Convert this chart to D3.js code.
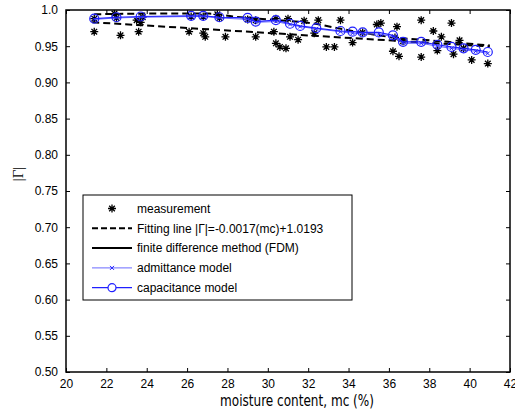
<!DOCTYPE html>
<html>
<head>
<meta charset="utf-8">
<script src="https://cdn.jsdelivr.net/npm/d3@7"></script>
<style>
body { margin: 0; background: #fff; }
svg { font-family: "Liberation Sans", Arial, sans-serif; }
</style>
</head>
<body>
<div id="vis"></div>
<script>
// measured reflection coefficient magnitude vs moisture content
var measMc = [21.4, 21.4, 22.4, 22.7, 22.5, 23.6, 23.5, 23.7, 23.8, 26.1, 26.2, 26.8, 26.9, 26.8,
	27.5, 27.6, 27.9, 29.0, 29.4, 29.4, 30.3, 30.4, 30.4, 30.6, 30.9, 31.0, 31.1, 31.5, 31.8,
	32.3, 32.5, 32.9, 33.3, 33.6, 34.2, 35.4, 35.6, 36.2, 36.4, 36.5, 36.3, 37.6, 37.6, 38.2,
	38.4, 38.6, 39.1, 39.5, 39.2, 40.1, 40.9, 34.7, 36.7, 39.7];
var measG = [0.970, 0.988, 0.995, 0.965, 0.989, 0.970, 0.986, 0.983, 0.990, 0.970, 0.991, 0.968, 0.963, 0.991,
	0.994, 0.989, 0.963, 0.987, 0.963, 0.986, 0.970, 0.988, 0.954, 0.949, 0.947, 0.988, 0.963, 0.959, 0.985,
	0.968, 0.986, 0.949, 0.949, 0.986, 0.955, 0.980, 0.982, 0.943, 0.977, 0.936, 0.962, 0.986, 0.935, 0.971,
	0.944, 0.963, 0.982, 0.958, 0.939, 0.931, 0.926, 0.969, 0.957, 0.947];

// fitting line |G| = -0.0017 mc + 1.0193, endpoints
var fitMc = [21.3, 41.0];
var fitG = [0.9831, 0.9496];

// second dashed curve (upper)
var upMc = [21.4, 24.0, 27.1, 28.3, 30.0, 32.1, 34.0, 36.0, 38.5, 41.0];
var upG = [0.994, 0.995, 0.995, 0.991, 0.987, 0.982, 0.972, 0.963, 0.957, 0.951];

// model curves
var modelMc = [21.4, 22.5, 23.7, 26.2, 26.8, 27.6, 29.0, 29.4, 30.4, 31.1, 31.6, 32.4,
	33.6, 34.2, 34.7, 35.5, 36.2, 36.7, 37.6, 38.4, 39.1, 39.7, 40.3, 40.9];
var capG = [0.988, 0.990, 0.991, 0.992, 0.992, 0.990, 0.989, 0.984, 0.986, 0.981, 0.978, 0.975,
	0.971, 0.970, 0.969, 0.969, 0.965, 0.956, 0.956, 0.952, 0.949, 0.947, 0.945, 0.942];
var admG = [0.987, 0.989, 0.990, 0.991, 0.991, 0.989, 0.987, 0.983, 0.984, 0.980, 0.977, 0.974,
	0.970, 0.968, 0.967, 0.967, 0.963, 0.954, 0.954, 0.950, 0.947, 0.945, 0.943, 0.940];

var xTicks = [20, 22, 24, 26, 28, 30, 32, 34, 36, 38, 40, 42];
var yTicks = [0.5, 0.55, 0.6, 0.65, 0.7, 0.75, 0.8, 0.85, 0.9, 0.95, 1.0];

var legendLabels = ['measurement', 'Fitting line |\u0393|=-0.0017(mc)+1.0193',
	'finite difference method (FDM)', 'admittance model', 'capacitance model'];

var width = 515, height = 412;
var margin = { left: 66, right: 5, top: 10, bottom: 40 };
var drawWidth = width - margin.left - margin.right,
	drawHeight = height - margin.top - margin.bottom;

var svg = d3.select('#vis').append('svg')
	.attr('width', width)
	.attr('height', height);

var g = svg.append('g')
	.attr('transform', 'translate(' + margin.left + ',' + margin.top + ')');

var x = d3.scaleLinear().domain([20, 42]).range([0, drawWidth]);
var y = d3.scaleLinear().domain([0.5, 1.0]).range([drawHeight, 0]);

var blue = '#2020ff';

g.append('clipPath').attr('id', 'clip')
	.append('rect').attr('width', drawWidth).attr('height', drawHeight);

var plot = g.append('g').attr('clip-path', 'url(#clip)');

function starPath(s) {
	var p = '';
	[0, 45, 90, 135].forEach(function(a) {
		var r = a * Math.PI / 180;
		var dx = Math.cos(r) * s, dy = Math.sin(r) * s;
		p += 'M' + (-dx) + ',' + (-dy) + 'L' + dx + ',' + dy;
	});
	return p;
}

// measurement stars
plot.append('g').selectAll('path')
	.data(measMc.map(function(d, i) { return [d, measG[i]]; }))
	.enter().append('path')
	.attr('transform', function(d) { return 'translate(' + x(d[0]) + ',' + y(d[1]) + ')'; })
	.attr('d', starPath(4))
	.attr('stroke', '#000')
	.attr('stroke-width', 1.3)
	.attr('fill', 'none');

var line = d3.line()
	.x(function(d) { return x(d[0]); })
	.y(function(d) { return y(d[1]); });

// dashed lines
plot.append('path')
	.datum(upMc.map(function(d, i) { return [d, upG[i]]; }))
	.attr('d', line.curve(d3.curveMonotoneX))
	.attr('fill', 'none')
	.attr('stroke', '#000')
	.attr('stroke-width', 2)
	.attr('stroke-dasharray', '7,4');

line.curve(d3.curveLinear);

plot.append('path')
	.datum(fitMc.map(function(d, i) { return [d, fitG[i]]; }))
	.attr('d', line)
	.attr('fill', 'none')
	.attr('stroke', '#000')
	.attr('stroke-width', 2)
	.attr('stroke-dasharray', '7,4');

// admittance model
var admData = modelMc.map(function(d, i) { return [d, admG[i]]; });
plot.append('path')
	.datum(admData)
	.attr('d', line)
	.attr('fill', 'none')
	.attr('stroke', '#6a6aff')
	.attr('stroke-width', 1);

plot.append('g').selectAll('path')
	.data(admData)
	.enter().append('path')
	.attr('transform', function(d) { return 'translate(' + x(d[0]) + ',' + y(d[1]) + ')'; })
	.attr('d', 'M-2,-2L2,2M-2,2L2,-2')
	.attr('stroke', blue)
	.attr('stroke-width', 1);

// capacitance model
var capData = modelMc.map(function(d, i) { return [d, capG[i]]; });
plot.append('path')
	.datum(capData)
	.attr('d', line)
	.attr('fill', 'none')
	.attr('stroke', blue)
	.attr('stroke-width', 1.2);

plot.append('g').selectAll('circle')
	.data(capData)
	.enter().append('circle')
	.attr('cx', function(d) { return x(d[0]); })
	.attr('cy', function(d) { return y(d[1]); })
	.attr('r', 4.5)
	.attr('fill', 'none')
	.attr('stroke', blue)
	.attr('stroke-width', 1.2);

// axes, MATLAB style with inward ticks on all sides
var fmtY = function(d) { return d === 1 ? '1.0' : d3.format('.2f')(d); };

g.append('g')
	.attr('class', 'axis')
	.attr('transform', 'translate(0,' + drawHeight + ')')
	.call(d3.axisBottom(x).tickValues(xTicks).tickSize(-4).tickPadding(7));

g.append('g')
	.attr('class', 'axis')
	.call(d3.axisTop(x).tickValues(xTicks).tickSize(-4).tickFormat(''));

g.append('g')
	.attr('class', 'axis')
	.call(d3.axisLeft(y).tickValues(yTicks).tickSize(-4).tickPadding(8).tickFormat(fmtY));

g.append('g')
	.attr('class', 'axis')
	.attr('transform', 'translate(' + drawWidth + ',0)')
	.call(d3.axisRight(y).tickValues(yTicks).tickSize(-4).tickFormat(''));

g.selectAll('.axis .domain').remove();
g.selectAll('.axis text')
	.attr('font-size', 12)
	.attr('fill', '#000')
	.attr('font-family', '"Liberation Sans", Arial, sans-serif');
g.selectAll('.axis line').attr('stroke', '#000');

g.append('rect')
	.attr('width', drawWidth)
	.attr('height', drawHeight)
	.attr('fill', 'none')
	.attr('stroke', '#000')
	.attr('stroke-width', 1.5);

// axis titles
svg.append('text')
	.attr('x', 297)
	.attr('y', 406)
	.attr('text-anchor', 'middle')
	.attr('font-family', '"Liberation Sans Narrow", "DejaVu Sans Condensed", sans-serif')
	.attr('font-size', 15)
	.attr('textLength', 154)
	.attr('lengthAdjust', 'spacingAndGlyphs')
	.text('moisture content, mc (%)');

svg.append('text')
	.attr('transform', 'translate(23,174) rotate(-90)')
	.attr('text-anchor', 'middle')
	.attr('font-family', '"Liberation Serif", "Times New Roman", serif')
	.attr('font-size', 15)
	.text('|\u0393|');

// legend
var lx = 83, ly = 195, lw = 269, lh = 105;
var legend = svg.append('g');
legend.append('rect')
	.attr('x', lx).attr('y', ly)
	.attr('width', lw).attr('height', lh)
	.attr('fill', '#fff')
	.attr('stroke', '#000')
	.attr('stroke-width', 1);

var rows = legend.selectAll('g.row')
	.data(legendLabels)
	.enter().append('g')
	.attr('class', 'row')
	.attr('transform', function(d, i) { return 'translate(' + lx + ',' + (ly + 13.5 + i * 19.8) + ')'; });

rows.append('text')
	.attr('x', 54)
	.attr('dy', '0.35em')
	.attr('font-size', 12)
	.text(function(d) { return d; });

var l0 = 9, l1 = 49, lm = 29;
d3.select(rows.nodes()[0]).append('path')
	.attr('transform', 'translate(' + lm + ',0)')
	.attr('d', starPath(4))
	.attr('stroke', '#000').attr('stroke-width', 1.3);
d3.select(rows.nodes()[1]).append('line')
	.attr('x1', l0).attr('x2', l1)
	.attr('stroke', '#000').attr('stroke-width', 2).attr('stroke-dasharray', '6,3');
d3.select(rows.nodes()[2]).append('line')
	.attr('x1', l0).attr('x2', l1)
	.attr('stroke', '#000').attr('stroke-width', 2);
d3.select(rows.nodes()[3]).append('line')
	.attr('x1', l0).attr('x2', l1)
	.attr('stroke', '#6a6aff').attr('stroke-width', 1);
d3.select(rows.nodes()[3]).append('path')
	.attr('transform', 'translate(' + lm + ',0)')
	.attr('d', 'M-2,-2L2,2M-2,2L2,-2')
	.attr('stroke', blue).attr('stroke-width', 1);
d3.select(rows.nodes()[4]).append('line')
	.attr('x1', l0).attr('x2', l1)
	.attr('stroke', blue).attr('stroke-width', 1.2);
d3.select(rows.nodes()[4]).append('circle')
	.attr('cx', lm).attr('r', 4)
	.attr('fill', '#fff')
	.attr('stroke', blue).attr('stroke-width', 1.2);
</script>
</body>
</html>
